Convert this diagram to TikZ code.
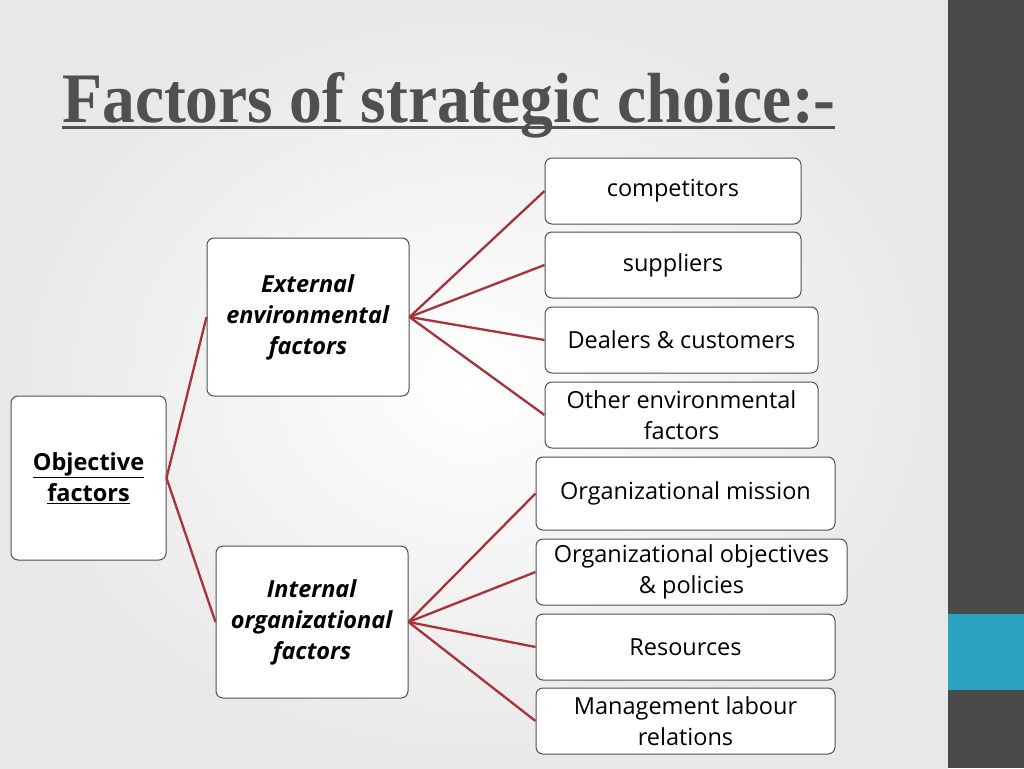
\documentclass[tikz,border=0pt]{standalone}
\usepackage{fontspec}
\setmainfont{Open Sans}
\newfontfamily\titlefont{Liberation Serif}
\usetikzlibrary{shadings}
\definecolor{linkred}{HTML}{A8323A}
\definecolor{bord}{HTML}{505050}
\definecolor{barc}{HTML}{4A4A4A}
\definecolor{bluec}{HTML}{2AA3C0}
\tikzset{
 box/.style={draw=bord,fill=white,rounded corners=7pt,line width=1pt,align=center,inner sep=2pt,
   font=\fontsize{23.5}{31}\selectfont},
 link/.style={draw=linkred,line width=2.3pt}
}
\newcommand{\bx}[6]{\node[box,minimum width=#4-#2,minimum height=#5-#3] (#1) at ({(#2+#4)/2},{(#3+#5)/2}) {#6};}
\begin{document}
\begin{tikzpicture}[x=1pt,y=-1pt]
\useasboundingbox (0,0) rectangle (1024,768);
\shade[inner color=white,outer color=gray!18] (0,0) rectangle (948,768);
\fill[barc] (948,0) rectangle (1024,768);
\fill[bluec] (948,614) rectangle (1024,690);
\node[anchor=north west,inner sep=0pt,text=bord] (title) at (62,72)
 {\resizebox{773pt}{50pt}{\titlefont\bfseries Factors of strategic choice:-}};
\draw[bord,line width=3pt] (62,127) -- (835,127);
\bx{obj}{11}{396}{166}{560}{\textbf{\underline{Objective}}\\\textbf{\underline{factors}}}
\bx{ext}{207}{238}{409}{396}{\textbf{\itshape External}\\\textbf{\itshape environmental}\\\textbf{\itshape factors}}
\bx{int}{216}{546}{408}{698}{\textbf{\itshape Internal}\\\textbf{\itshape organizational}\\\textbf{\itshape factors}}
\bx{c1}{545}{158}{801}{224}{competitors}
\bx{c2}{545}{232}{801}{298}{suppliers}
\bx{c3}{545}{307}{818}{373}{Dealers \& customers}
\bx{c4}{545}{382}{818}{448}{Other environmental\\factors}
\bx{d1}{536}{457}{835}{530}{Organizational mission}
\bx{d2}{536}{539}{847}{605}{Organizational objectives\\\& policies}
\bx{d3}{536}{614}{835}{680}{Resources}
\bx{d4}{536}{688}{835}{754}{Management labour\\relations}
\foreach \n in {ext,int} \draw[link] (obj.east) -- (\n.west);
\foreach \n in {c1,c2,c3,c4} \draw[link] (ext.east) -- (\n.west);
\foreach \n in {d1,d2,d3,d4} \draw[link] (int.east) -- (\n.west);
\end{tikzpicture}
\end{document}
